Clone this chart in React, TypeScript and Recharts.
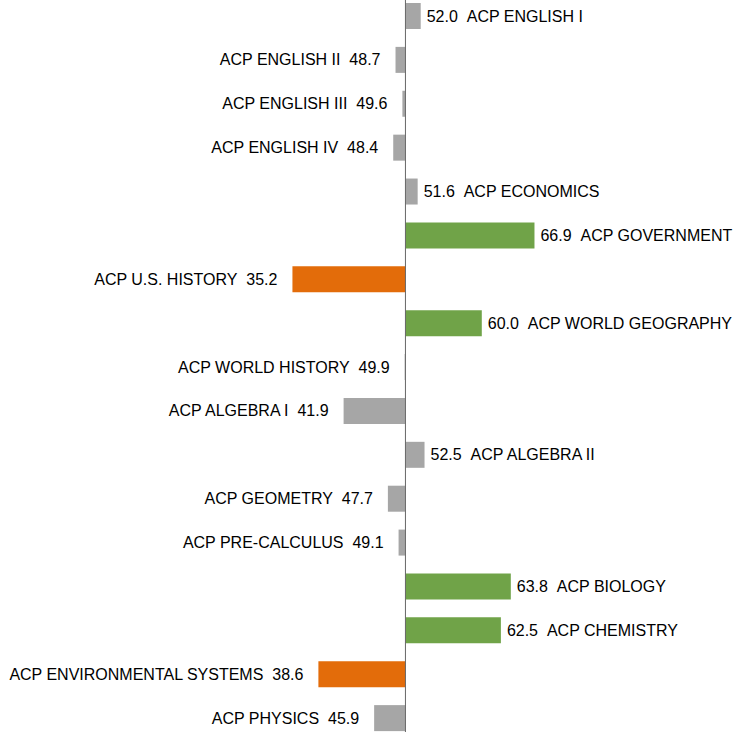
import { BarChart, Bar, XAxis, YAxis, Cell, LabelList, ReferenceLine } from "recharts";

const courses = [
  "ACP ENGLISH I",
  "ACP ENGLISH II",
  "ACP ENGLISH III",
  "ACP ENGLISH IV",
  "ACP ECONOMICS",
  "ACP GOVERNMENT",
  "ACP U.S. HISTORY",
  "ACP WORLD GEOGRAPHY",
  "ACP WORLD HISTORY",
  "ACP ALGEBRA I",
  "ACP ALGEBRA II",
  "ACP GEOMETRY",
  "ACP PRE-CALCULUS",
  "ACP BIOLOGY",
  "ACP CHEMISTRY",
  "ACP ENVIRONMENTAL SYSTEMS",
  "ACP PHYSICS",
];

const scores = [52.0, 48.7, 49.6, 48.4, 51.6, 66.9, 35.2, 60.0, 49.9, 41.9, 52.5, 47.7, 49.1, 63.8, 62.5, 38.6, 45.9];

const BASE = 50;

const GREY = "#a6a6a6";
const GREEN = "#70a348";
const ORANGE = "#e36c0a";

const data = courses.map((name, i) => ({
  name,
  score: scores[i],
  idx: i,
  range: [Math.min(BASE, scores[i]), Math.max(BASE, scores[i])],
}));

const colorFor = (v: number) => (v >= 60 ? GREEN : v < 40 ? ORANGE : GREY);

const BarLabel = (props: any) => {
  const { x, y, width, height, value } = props;
  const row = data[value];
  const cy = y + height / 2;
  if (row.score >= BASE) {
    return (
      <text x={x + width + 6} y={cy} dominantBaseline="central" textAnchor="start" fontSize={16} fill="#000">
        {`${row.score.toFixed(1)}\u00a0\u00a0${row.name}`}
      </text>
    );
  }
  return (
    <text x={x - 15} y={cy} dominantBaseline="central" textAnchor="end" fontSize={16} fill="#000">
      {`${row.name}\u00a0\u00a0${row.score.toFixed(1)}`}
    </text>
  );
};

export default function App() {
  return (
    <div
      style={{
        position: "fixed",
        left: 0,
        top: 0,
        width: 733,
        height: 732,
        overflow: "hidden",
        background: "#fff",
        fontFamily: "'Liberation Sans', Arial, sans-serif",
      }}
    >
      <div style={{ marginTop: -6 }}>
        <BarChart
          width={733}
          height={746}
          data={data}
          layout="vertical"
          margin={{ top: 0, right: 0, bottom: 0, left: 0 }}
          barSize={26}
        >
          <XAxis type="number" domain={[-3.1, 92.9]} hide />
          <YAxis type="category" dataKey="name" hide />
          <Bar dataKey="range" isAnimationActive={false}>
            {data.map((d) => (
              <Cell key={d.name} fill={colorFor(d.score)} />
            ))}
            <LabelList dataKey="idx" content={BarLabel} />
          </Bar>
          <ReferenceLine x={BASE} stroke="#666" strokeWidth={1} />
        </BarChart>
      </div>
    </div>
  );
}
